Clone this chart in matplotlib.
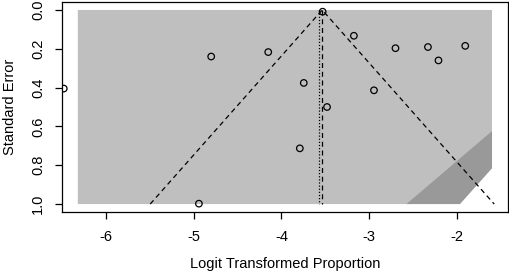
import matplotlib
matplotlib.use("Agg")
import numpy as np
import matplotlib.pyplot as plt
from matplotlib.patches import Polygon

plt.rcParams['font.family'] = ['Liberation Sans', 'DejaVu Sans']

# study estimates (logit proportions) and standard errors
yi = [-6.48, -4.80, -4.15, -3.745, -3.48, -3.174, -2.945, -2.70, -2.33, -2.21,
      -1.905, -3.53, -3.79, -4.94]
sei = [0.405, 0.240, 0.217, 0.376, 0.500, 0.133, 0.414, 0.197, 0.191, 0.260,
       0.185, 0.009, 0.713, 0.998]

est = -3.535      # pooled estimate (dashed reference line)
est2 = -3.57      # second reference (dotted)
se_max = 1.0

# shaded regions (light background and darker corner)
light_x = [-6.32, -1.60, -1.60, -1.966, -6.32]
light_y = [0.0, 0.0, 0.815, 1.0, 1.0]
dark_x = [-2.575, -1.60, -1.60, -1.966]
dark_y = [1.0, 0.624, 0.815, 1.0]

xticks = [-6, -5, -4, -3, -2]
yticks = [0.0, 0.2, 0.4, 0.6, 0.8, 1.0]

fig = plt.figure(figsize=(5.1, 2.78), dpi=100)
ax = fig.add_axes([0.1216, 0.2374, 0.9962 - 0.1216, 0.9928 - 0.2374])

ax.add_patch(Polygon(list(zip(light_x, light_y)), closed=True,
                     facecolor='#bfbfbf', edgecolor='none', zorder=1))
ax.add_patch(Polygon(list(zip(dark_x, dark_y)), closed=True,
                     facecolor='#999999', edgecolor='none', zorder=1))

# funnel lines
ax.plot([est - 1.96 * se_max, est, est + 1.96 * se_max], [se_max, 0, se_max],
        color='black', lw=0.9, ls=(0, (4, 3)), zorder=2)
ax.plot([est, est], [0, se_max], color='black', lw=0.9, ls=(0, (4, 3)), zorder=2)
ax.plot([est2, est2], [0, se_max], color='black', lw=0.9, ls=(0, (1, 1.5)), zorder=2)

ax.scatter(yi, sei, s=22, facecolors='none', edgecolors='black',
           linewidths=0.9, zorder=3)

ax.set_xlim(-6.50, -1.417)
ax.set_ylim(1.041, -0.041)
ax.set_xticks(xticks)
ax.set_xticklabels([str(t) for t in xticks])
ax.set_yticks(yticks)
ax.set_yticklabels([f"{t:.1f}" for t in yticks], rotation=90, va='center')
ax.tick_params(direction='out', length=5, width=0.9, labelsize=10.5)
ax.tick_params(axis='x', pad=8)
ax.tick_params(axis='y', pad=7)
for s in ax.spines.values():
    s.set_linewidth(0.9)

ax.set_xlabel("Logit Transformed Proportion", fontsize=10.5, labelpad=9)
ax.set_ylabel("Standard Error", fontsize=10.5, labelpad=10)

fig.savefig("out.png", dpi=100)
